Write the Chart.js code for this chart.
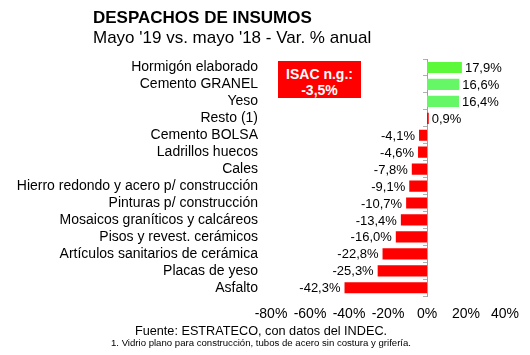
<!DOCTYPE html>
<html>
<head>
<meta charset="utf-8">
<script src="https://cdn.jsdelivr.net/npm/chart.js@4/dist/chart.umd.min.js"></script>
<style>
html,body{margin:0;padding:0;background:#fff;}
#wrap{position:relative;width:530px;height:355px;overflow:hidden;font-family:"Liberation Sans",Arial,sans-serif;color:#000;}
#c{position:absolute;left:0;top:0;}
.t{position:absolute;white-space:nowrap;line-height:1;}
#title{left:93px;top:9px;font-weight:bold;font-size:17px;}
#sub{left:93px;top:29px;font-size:17px;}
#isac{position:absolute;left:278px;top:61px;width:83px;height:37px;background:#ff0000;color:#fff;font-weight:bold;font-size:14px;text-align:center;line-height:16px;padding-top:5px;box-sizing:border-box;}
#src{left:0;width:522px;text-align:center;top:325px;font-size:12.7px;}
#note{left:0;width:522px;text-align:center;top:338px;font-size:9.6px;}
</style>
</head>
<body>
<div id="wrap">
<canvas id="c" width="530" height="355"></canvas>
<div class="t" id="title">DESPACHOS DE INSUMOS</div>
<div class="t" id="sub">Mayo '19 vs. mayo '18 - Var. % anual</div>
<div id="isac">ISAC n.g.:<br>-3,5%</div>
<div class="t" id="src">Fuente: ESTRATECO, con datos del INDEC.</div>
<div class="t" id="note">1. Vidrio plano para construcción, tubos de acero sin costura y grifería.</div>
</div>
<script>
const categories = [
  "Hormigón elaborado",
  "Cemento GRANEL",
  "Yeso",
  "Resto (1)",
  "Cemento BOLSA",
  "Ladrillos huecos",
  "Cales",
  "Hierro redondo y acero p/ construcción",
  "Pinturas p/ construcción",
  "Mosaicos graníticos y calcáreos",
  "Pisos y revest. cerámicos",
  "Artículos sanitarios de cerámica",
  "Placas de yeso",
  "Asfalto"
];
const variation = [17.9, 16.6, 16.4, 0.9, -4.1, -4.6, -7.8, -9.1, -10.7, -13.4, -16.0, -22.8, -25.3, -42.3];
const xTicks = [-80, -60, -40, -20, 0, 20, 40];
const barColors = ["#5cf83a", "#66f766", "#66f766", "#ff0000", "#ff0000", "#ff0000", "#ff0000", "#ff0000", "#ff0000", "#ff0000", "#ff0000", "#ff0000", "#ff0000", "#ff0000"];

const fmt = v => v.toFixed(1).replace('.', ',') + '%';

const valueLabels = {
  id: 'valueLabels',
  afterDatasetsDraw(chart) {
    const ctx = chart.ctx;
    const meta = chart.getDatasetMeta(0);
    ctx.save();
    ctx.font = '13px "Liberation Sans", Arial, sans-serif';
    ctx.fillStyle = '#000';
    ctx.textBaseline = 'middle';
    meta.data.forEach((bar, i) => {
      const v = variation[i];
      if (v >= 0) {
        ctx.textAlign = 'left';
        ctx.fillText(fmt(v), bar.x + 3, bar.y + 1);
      } else {
        ctx.textAlign = 'right';
        ctx.fillText(fmt(v), bar.x - 4, bar.y + 1);
      }
    });
    ctx.restore();
  }
};

new Chart(document.getElementById('c'), {
  type: 'bar',
  data: {
    labels: categories,
    datasets: [{
      data: variation,
      backgroundColor: barColors,
      borderWidth: 0,
      categoryPercentage: 0.66,
      barPercentage: 1.0,
      yAxisID: 'y'
    }]
  },
  options: {
    indexAxis: 'y',
    responsive: false,
    animation: false,
    layout: { padding: { top: 59, right: 25, left: 0, bottom: 30 } },
    plugins: { legend: { display: false }, tooltip: { enabled: false } },
    scales: {
      x: {
        type: 'linear',
        min: -80, max: 40,
        afterBuildTicks: s => { s.ticks = xTicks.map(v => ({ value: v })); },
        ticks: {
          callback: v => v + '%',
          font: { family: '"Liberation Sans", Arial, sans-serif', size: 14 },
          color: '#000',
          padding: 2,
          maxRotation: 0,
          autoSkip: false
        },
        grid: { display: false },
        border: { display: false }
      },
      y: {
        position: 'left',
        afterFit: s => { s.width = 271; },
        ticks: {
          font: { family: '"Liberation Sans", Arial, sans-serif', size: 14 },
          color: '#000',
          padding: 5,
          autoSkip: false
        },
        grid: { display: false },
        border: { display: false }
      },
      y2: {
        type: 'category',
        position: { x: 0 },
        ticks: { display: false },
        grid: { offset: true, drawOnChartArea: false, drawTicks: true, tickLength: 4, color: '#b0b0b0' },
        border: { display: true, color: '#a0a0a0', width: 1 }
      }
    }
  },
  plugins: [valueLabels]
});
</script>
</body>
</html>
